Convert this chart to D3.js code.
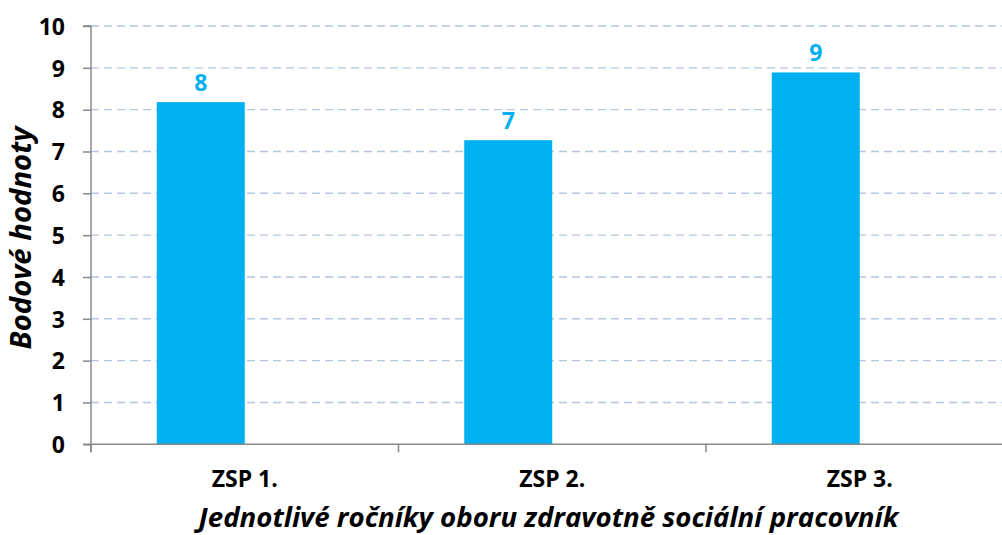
<!DOCTYPE html>
<html><head><meta charset="utf-8">
<script src="https://cdn.jsdelivr.net/npm/d3@7"></script>
<style>body{margin:0;background:#fff}svg{display:block}</style>
</head><body>
<svg id="c" width="1002" height="535"></svg>
<script>
const categories = ["ZSP 1.", "ZSP 2.", "ZSP 3."];
const values = [8.18, 7.27, 8.89];
const valueLabels = ["8", "7", "9"];
const yTicks = [0,1,2,3,4,5,6,7,8,9,10];
const yTitle = "Bodové hodnoty";
const xTitle = "Jednotlivé ročníky oboru zdravotně sociální pracovník";

(function(){
const svg = d3.select("#c");
const mLeft = 91, mTop = 26, mBottom = 444.3, bandW = 307.5;
const x = d3.scaleBand().domain(categories).range([mLeft, mLeft + bandW*categories.length]);
const y = d3.scaleLinear().domain([0,10]).range([mBottom, mTop]);
const font = "'Open Sans', Lato, sans-serif";
const barW = 88;
const fs = 23;

// grid
svg.append("g").selectAll("line").data(yTicks.filter(d=>d>0)).join("line")
  .attr("x1", mLeft).attr("x2", 1002)
  .attr("y1", d=>y(d)).attr("y2", d=>y(d))
  .attr("stroke", "#B4C6E0").attr("stroke-width", 1.4).attr("stroke-dasharray", "8,5");

// bars
svg.append("g").selectAll("rect").data(values).join("rect")
  .attr("x", (d,i)=> x(categories[i]) + x.bandwidth()/2 - barW)
  .attr("width", barW)
  .attr("y", d=>y(d)).attr("height", d=>y(0)-y(d))
  .attr("fill", "#00B0F0");

// value labels
svg.append("g").selectAll("text").data(values).join("text")
  .attr("x", (d,i)=> x(categories[i]) + x.bandwidth()/2 - barW/2)
  .attr("y", d=>y(d) - 11.6)
  .attr("text-anchor", "middle")
  .attr("font-family", font).attr("font-weight", "bold").attr("font-size", fs)
  .attr("fill", "#00B0F0")
  .text((d,i)=>valueLabels[i]);

// y axis
const yAxis = d3.axisLeft(y).tickValues(yTicks).tickSize(8).tickPadding(18);
const gy = svg.append("g").attr("transform", `translate(${mLeft},0)`).call(yAxis);
gy.select(".domain").attr("stroke", "#898989").attr("stroke-width", 1.5).attr("d", `M-8,${mTop}H0V${mBottom+8}`);
gy.selectAll(".tick line").attr("stroke", "#898989").attr("stroke-width", 1.5);
gy.selectAll(".tick text").attr("font-family", font).attr("font-weight", "bold")
  .attr("font-size", fs).attr("fill", "#000").attr("dy", "0.36em");

// x axis
const gx = svg.append("g").attr("transform", `translate(0,${mBottom})`);
gx.append("line").attr("x1", mLeft-8).attr("x2", 1002).attr("y1", 0).attr("y2", 0)
  .attr("stroke", "#898989").attr("stroke-width", 1.5);
const bounds = categories.map((c)=> x(c)).concat([x.range()[1]]);
gx.selectAll("line.t").data(bounds).join("line").attr("class","t")
  .attr("x1", d=>d).attr("x2", d=>d).attr("y1", 0).attr("y2", 8)
  .attr("stroke", "#898989").attr("stroke-width", 1.5);
gx.selectAll("text").data(categories).join("text")
  .attr("x", d=>x(d) + x.bandwidth()/2).attr("y", 42.4)
  .attr("text-anchor", "middle")
  .attr("font-family", font).attr("font-weight", "bold").attr("font-size", fs)
  .attr("fill", "#000").text(d=>d);

// titles (font size fitted to the reference text widths)
function fit(sel, target){
  const w = sel.node().getComputedTextLength();
  const f = parseFloat(sel.attr("font-size"));
  sel.attr("font-size", f*target/w);
}
const xt = svg.append("text").attr("x", 548.5).attr("y", 526.5).attr("text-anchor", "middle")
  .attr("font-family", font).attr("font-weight", "bold").attr("font-style", "italic")
  .attr("font-size", 25).attr("fill", "#000").text(xTitle);
fit(xt, 700);
const yt = svg.append("text").attr("transform", "translate(31,238) rotate(-90)").attr("text-anchor", "middle")
  .attr("font-family", font).attr("font-weight", "bold").attr("font-style", "italic")
  .attr("font-size", 25).attr("fill", "#000").text(yTitle);
fit(yt, 223);
})();
</script>
</body></html>
